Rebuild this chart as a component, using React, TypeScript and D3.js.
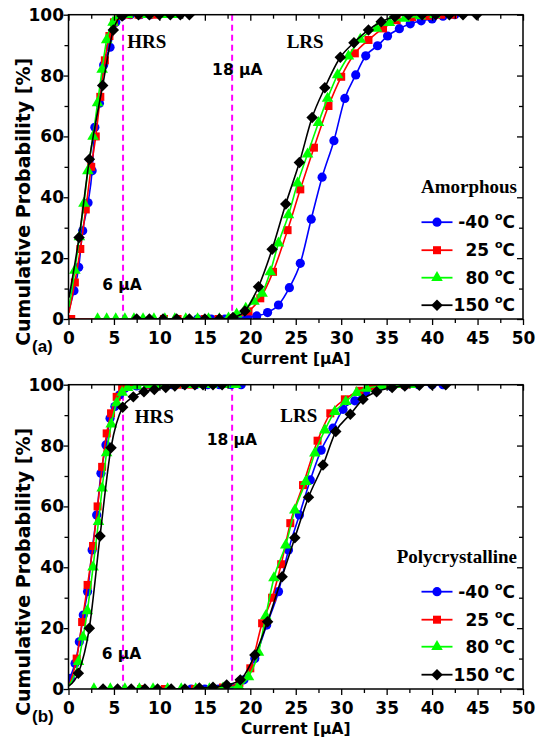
import React, { useEffect, useRef } from 'react';
import * as d3 from 'd3';

type Pt = [number, number];

const temps = ['-40', '25', '80', '150'];
const colors = ['#0000ff', '#ff0000', '#00ff00', '#000000'];

// (a) amorphous, HRS branch (first point only anchors the line)
const amoHrsM40: Pt[] = [[0.05, 3], [0.6, 9.3], [1.12, 17], [1.56, 29], [2.15, 38.2], [2.6, 48.7], [2.9, 63], [3.4, 70.9], [3.87, 83.5], [4.57, 89.3], [5.2, 97.5], [5.9, 99.6], [6.8, 100], [7.9, 100], [9.0, 100]];
const amoHrs25: Pt[] = [[0.05, 2], [0.7, 12], [1.3, 23], [1.9, 36], [2.5, 50], [3.0, 60], [3.5, 73], [4.0, 85], [4.5, 93], [5.0, 97.5], [5.6, 99.6], [6.6, 100], [7.7, 100], [9.4, 100]];
const amoHrs80: Pt[] = [[0.05, 4], [0.7, 16], [1.2, 27], [1.7, 38], [2.13, 48.7], [2.7, 60], [3.2, 71], [3.7, 82], [4.2, 91.7], [4.9, 97.5], [5.6, 99.6], [6.5, 100], [8.7, 100], [10.5, 100], [12.0, 100]];
const amoHrs150: Pt[] = [[0.05, 7], [1.16, 26.8], [2.3, 52.5], [3.76, 76.7], [4.93, 95], [5.9, 99.6], [7.7, 100], [8.9, 100], [10.0, 100], [11.2, 100], [12.3, 100], [13.3, 100]];

// (a) amorphous, LRS branch
const amoLrsM40: Pt[] = [[14.2, 0], [15.7, 0], [17.2, 0], [18.7, 0.3], [19.7, 0.6], [20.7, 1], [21.9, 2.1], [23.1, 4.6], [24.3, 10.3], [25.5, 18.3], [26.7, 32.8], [27.9, 46.6], [29.2, 58.6], [30.4, 72.5], [31.6, 80.2], [32.7, 86.5], [34, 89.8], [35.1, 93], [36.4, 95.4], [37.6, 97], [38.8, 98], [40, 98.6], [41.2, 99.5], [42.5, 100]];
const amoLrs25: Pt[] = [[0.3, 0], [10.5, 0], [12, 0], [15, 0], [16.5, 0], [18, 0.3], [19.8, 2.5], [21.1, 6.8], [22.5, 15.5], [24.1, 29.2], [25.5, 42.6], [27, 56.3], [28.6, 70], [30, 79.6], [31.5, 87.3], [33, 91.7], [34.6, 95.5], [36.1, 98.2], [37.8, 99.2], [39.5, 99.6], [41, 100], [42.3, 100]];
const amoLrs80: Pt[] = [[3.2, 0], [4.2, 0], [5.2, 0], [6.2, 0], [7.2, 0], [8.2, 0], [9.4, 0], [10.6, 0], [11.7, 0], [12.9, 0], [14.2, 0], [15.4, 0], [16.6, 0], [17.6, 0.3], [18.5, 1.6], [19.5, 3.5], [20.4, 5.8], [21.3, 8.4], [22.2, 15.5], [23.1, 24.9], [24.2, 34.2], [25.2, 44.6], [26.3, 54.2], [27.5, 64.5], [28.5, 72.5], [29.6, 80.2], [30.8, 86.4], [32.1, 91.9], [33.9, 95.5], [35.3, 97.4], [37, 98.8], [38.7, 99.6], [40.3, 100]];
const amoLrs150: Pt[] = [[7.5, 0], [8.9, 0], [10.4, 0], [11.9, 0], [13.3, 0], [15.0, 0], [16.6, 0], [18.1, 0.5], [19.4, 2.6], [20.9, 10.6], [22.4, 22.9], [23.9, 37.8], [25.4, 51.4], [26.8, 66.2], [28.2, 76], [29.9, 86], [31.4, 90.8], [33, 95], [34.4, 97.7], [35.9, 99.3], [37.4, 100], [38.9, 100], [40.4, 100], [41.9, 100], [43.4, 100], [44.9, 100]];

// (b) polycrystalline, HRS branch
const polyHrsM40: Pt[] = [[0.05, 1.3], [0.2, 3.5], [0.72, 8.4], [1.19, 15.5], [1.63, 24.3], [2.1, 32], [2.6, 45.7], [3.1, 57.2], [3.57, 70.9], [4.12, 80.2], [4.57, 89], [5.1, 92.8], [5.6, 96.6], [6.2, 98.8], [7.5, 99.6], [8.8, 100], [10.1, 100], [11.4, 100], [12.7, 100], [14, 100], [15.3, 100], [16.6, 100], [17.9, 100], [19, 100]];
const polyHrs25: Pt[] = [[0.05, 1], [0.9, 10], [1.5, 22], [2.1, 34.2], [2.7, 47], [3.2, 60], [3.7, 73], [4.2, 84], [4.68, 90.6], [5.3, 96], [5.9, 99], [6.5, 99.6], [7.5, 100], [9, 100], [10.5, 100], [12, 100], [13.5, 100]];
const polyHrs80: Pt[] = [[0.05, 1], [1.1, 9], [1.6, 17], [2.07, 25.7], [2.7, 40], [3.3, 55], [3.7, 66], [4.19, 77.6], [4.7, 87], [5.3, 94], [5.9, 97.5], [6.5, 99], [7.5, 99.6], [8.8, 100], [10.2, 100], [11.6, 100], [13, 100], [14.4, 100], [15.8, 100], [17.2, 100], [18.4, 100]];
const polyHrs150: Pt[] = [[0.05, 1], [1.08, 5.2], [2.29, 20], [3.47, 50.3], [4.68, 79.3], [5.96, 92.6], [7.13, 96], [8.3, 97.7], [9.44, 98.4], [10.7, 99.1], [11.7, 99.6], [12.8, 100], [13.9, 100], [14.8, 100], [15.9, 100], [16.9, 100]];

// (b) polycrystalline, LRS branch
const polyLrsM40: Pt[] = [[13.5, 0], [15, 0], [16.5, 0], [18, 0.5], [19.3, 3], [20.5, 10], [21.8, 21], [23.1, 32], [24.2, 45.7], [25.4, 57.2], [26.6, 68.7], [27.8, 78.5], [29.1, 85.7], [30.2, 91.9], [31.5, 94.7], [32.7, 97.7], [34, 98.8], [35.5, 99.4], [37, 99.7], [38.5, 100], [40, 100], [41.2, 100]];
const polyLrs25: Pt[] = [[8, 0], [10.6, 0], [13.9, 0], [17, 0.5], [18.8, 2], [20, 6.8], [21.3, 21.6], [22.4, 30], [23.4, 41], [24.4, 54.5], [25.8, 67], [27.4, 81.6], [28.8, 90.6], [30.4, 95.2], [32, 98], [33.5, 99.3], [35, 100], [37, 100]];
const polyLrs80: Pt[] = [[2.8, 0], [4.6, 0], [6.2, 0], [7.8, 0], [9.3, 0], [10.9, 0], [12.4, 0], [14, 0], [15.5, 0], [17, 0.3], [18.7, 1], [19.8, 4], [20.9, 12], [21.7, 24], [22.6, 36.5], [23.9, 47.3], [24.9, 58.8], [26.1, 68.1], [27.1, 77.5], [28.2, 85.1], [29.3, 91.1], [30.5, 94.4], [31.7, 97.4], [32.8, 98.8], [34.5, 99.6], [36, 100], [37.8, 100]];
const polyLrs150: Pt[] = [[3.8, 0], [5.4, 0], [6.9, 0], [8.4, 0], [9.8, 0], [11.3, 0], [12.8, 0], [14.4, 0.3], [15.9, 0.6], [17.4, 1.3], [18.9, 3], [20.5, 11.2], [21.9, 22.1], [23.5, 36.9], [24.9, 49.7], [26.4, 63], [28, 73.6], [29.4, 84.6], [31, 90.3], [32.4, 95.2], [33.9, 97.7], [35.6, 99.1], [37, 99.6], [38.6, 99.8], [40, 100], [41.5, 100]];

const xMajor = [0, 5, 10, 15, 20, 25, 30, 35, 40, 45, 50];
const yMajor = [0, 20, 40, 60, 80, 100];
const thresholds = [6, 18];

const panels = [
  { id: 'a', label: '(a)', legend: 'Amorphous', top: 14.7, bottom: 319,
    series: [[amoHrsM40, amoLrsM40], [amoHrs25, amoLrs25], [amoHrs80, amoLrs80], [amoHrs150, amoLrs150]],
    hrs: [6.45, 89], lrs: [24.0, 89], t18: [15.8, 80.2], t6: [3.7, 9.5], legendRows: [207.5, 235.5, 263, 290.5] },
  { id: 'b', label: '(b)', legend: 'Polycrystalline', top: 384.7, bottom: 689,
    series: [[polyHrsM40, polyLrsM40], [polyHrs25, polyLrs25], [polyHrs80, polyLrs80], [polyHrs150, polyLrs150]],
    hrs: [7.3, 87.3], lrs: [23.3, 87.8], t18: [15.2, 80.2], t6: [3.65, 9.8], legendRows: [207, 235, 262, 290] },
];

const sans = '"DejaVu Sans", sans-serif';
const serif = '"Liberation Serif", "Times New Roman", serif';

function marker(g: any, i: number, x: number, y: number) {
  const c = colors[i];
  if (i === 0) g.append('circle').attr('cx', x).attr('cy', y).attr('r', 4.6).attr('fill', c);
  else if (i === 1) g.append('rect').attr('x', x - 4).attr('y', y - 4).attr('width', 8).attr('height', 8).attr('fill', c);
  else if (i === 2) g.append('path').attr('transform', `translate(${x},${y})`).attr('d', d3.symbol(d3.symbolTriangle, 58)()).attr('fill', c);
  else g.append('path').attr('transform', `translate(${x},${y}) rotate(45)`).attr('d', d3.symbol(d3.symbolSquare, 66)()).attr('fill', c);
}

function App() {
  const ref = useRef<SVGSVGElement>(null);

  useEffect(() => {
    const svg = d3.select(ref.current);
    svg.selectAll('*').remove();
    const xL = 68.5, xR = 523;

    panels.forEach((p) => {
      const x = d3.scaleLinear().domain([0, 50]).range([xL, xR]);
      const y = d3.scaleLinear().domain([0, 100]).range([p.bottom, p.top]);
      const g = svg.append('g');

      g.append('clipPath').attr('id', 'clip' + p.id)
        .append('rect').attr('x', xL).attr('y', p.top).attr('width', xR - xL).attr('height', p.bottom - p.top);

      // threshold lines
      thresholds.forEach((t) => {
        g.append('line').attr('x1', x(t)).attr('x2', x(t)).attr('y1', y(100)).attr('y2', y(0))
          .attr('stroke', '#ff00ff').attr('stroke-width', 2).attr('stroke-dasharray', '6,4');
      });

      const plot = g.append('g').attr('clip-path', `url(#clip${p.id})`);
      const line = d3.line<Pt>().x(d => x(d[0])).y(d => y(d[1])).curve(d3.curveMonotoneX);
      p.series.forEach((branches, i) => {
        branches.forEach((pts, b) => {
          plot.append('path').datum(pts).attr('d', line).attr('fill', 'none')
            .attr('stroke', colors[i]).attr('stroke-width', 1.6);
          pts.forEach((d, k) => {
            if (b === 0 && k === 0) return;
            marker(plot, i, x(d[0]), y(d[1]));
          });
        });
      });

      // axes: bottom/left outward, top/right inward
      const minorX = d3.range(2.5, 50, 5);
      const minorY = d3.range(10, 100, 20);
      const bottom = g.append('g').attr('transform', `translate(0,${p.bottom})`);
      bottom.call(d3.axisBottom(x).tickValues(xMajor).tickSize(6).tickPadding(7).tickFormat(d3.format('d')) as any);
      bottom.append('g').call(d3.axisBottom(x).tickValues(minorX).tickSize(4).tickFormat(() => '') as any);
      const left = g.append('g').attr('transform', `translate(${xL},0)`);
      left.call(d3.axisLeft(y).tickValues(yMajor).tickSize(5).tickPadding(0).tickFormat(d3.format('d')) as any);
      left.append('g').call(d3.axisLeft(y).tickValues(minorY).tickSize(4).tickFormat(() => '') as any);
      const topAx = g.append('g').attr('transform', `translate(0,${p.top})`);
      topAx.call(d3.axisTop(x).tickValues(xMajor).tickSize(-6).tickFormat(() => '') as any);
      topAx.append('g').call(d3.axisTop(x).tickValues(minorX).tickSize(-4).tickFormat(() => '') as any);
      const rightAx = g.append('g').attr('transform', `translate(${xR},0)`);
      rightAx.call(d3.axisRight(y).tickValues(yMajor).tickSize(-6).tickFormat(() => '') as any);
      rightAx.append('g').call(d3.axisRight(y).tickValues(minorY).tickSize(-4).tickFormat(() => '') as any);
      g.selectAll('.domain').remove();
      g.selectAll('.tick line').attr('stroke', '#000').attr('stroke-width', 1.3);
      g.selectAll('.tick text').attr('fill', '#000').attr('font-family', sans)
        .attr('font-weight', 'bold').attr('font-size', 17);
      left.selectAll('.tick text').attr('x', -4.5);

      g.append('rect').attr('x', xL).attr('y', p.top).attr('width', xR - xL).attr('height', p.bottom - p.top)
        .attr('fill', 'none').attr('stroke', '#000').attr('stroke-width', 1.5);

      // axis titles
      const cy = (p.top + p.bottom) / 2 + 35;
      g.append('text').attr('transform', `translate(30,${cy}) rotate(-90)`).attr('text-anchor', 'middle')
        .attr('font-family', sans).attr('font-weight', 'bold').attr('font-size', 19)
        .text('Cumulative Probability [%]');
      g.append('text').attr('x', (xL + xR) / 2).attr('y', p.bottom + 45).attr('text-anchor', 'middle')
        .attr('font-family', sans).attr('font-weight', 'bold').attr('font-size', 15.5).text('Current [µA]');
      g.append('text').attr('x', 32).attr('y', p.bottom + 33)
        .attr('font-family', '"Liberation Sans", Arial, sans-serif').attr('font-weight', 'bold').attr('font-size', 17).text(p.label);

      // annotations
      const ann = (pos: number[], txt: string, font: string, size: number) =>
        g.append('text').attr('x', x(pos[0])).attr('y', y(pos[1])).attr('font-family', font)
          .attr('font-weight', 'bold').attr('font-size', size).text(txt);
      ann(p.hrs, 'HRS', serif, 19);
      ann(p.lrs, 'LRS', serif, 19);
      ann(p.t18, '18 µA', sans, 15.5);
      ann(p.t6, '6 µA', sans, 15.5);

      // legend
      g.append('text').attr('x', 517).attr('y', p.top + 178).attr('text-anchor', 'end')
        .attr('font-family', serif).attr('font-weight', 'bold').attr('font-size', 19).text(p.legend);
      temps.forEach((t, i) => {
        const ly = p.top + p.legendRows[i];
        g.append('line').attr('x1', 421.5).attr('x2', 452.5).attr('y1', ly).attr('y2', ly)
          .attr('stroke', colors[i]).attr('stroke-width', 1.8);
        marker(g, i, 437, ly);
        const tx = g.append('text').attr('x', 515).attr('y', ly + 6).attr('text-anchor', 'end')
          .attr('font-family', sans).attr('font-weight', 'bold').attr('font-size', 17);
        tx.append('tspan').text(t + ' ');
        tx.append('tspan').attr('font-size', 11).attr('dy', -8).text('o');
        tx.append('tspan').attr('dy', 8).text('C');
      });
    });
  }, []);

  return (
    <svg ref={ref} width={536} height={742}
      style={{ position: 'absolute', left: 0, top: 0, background: '#fff' }} />
  );
}

export default App;
